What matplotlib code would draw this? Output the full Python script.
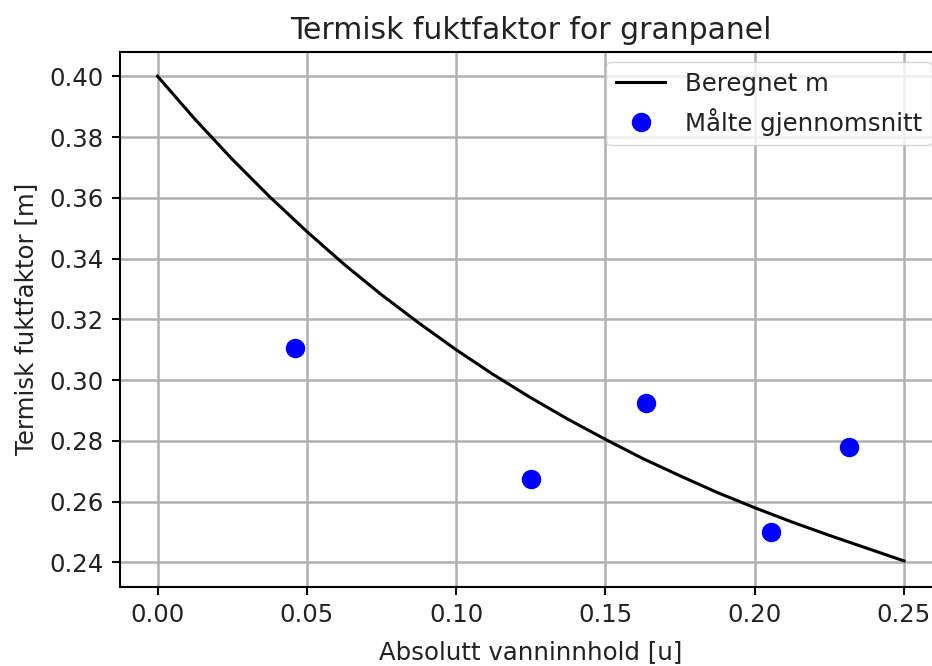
import numpy as np
import matplotlib
matplotlib.use('Agg')
import matplotlib.pyplot as plt
import matplotlib as mpl

mpl.rcParams['font.size'] = 17.6
mpl.rcParams['axes.titlesize'] = 21.5
mpl.rcParams['axes.labelsize'] = 17.6
mpl.rcParams['xtick.labelsize'] = 17.6
mpl.rcParams['ytick.labelsize'] = 17.6
mpl.rcParams['legend.fontsize'] = 17.6
mpl.rcParams['axes.linewidth'] = 1.5
mpl.rcParams['xtick.major.size'] = 6
mpl.rcParams['ytick.major.size'] = 6
mpl.rcParams['xtick.major.width'] = 1.5
mpl.rcParams['ytick.major.width'] = 1.5
mpl.rcParams['xtick.major.pad'] = 6
mpl.rcParams['ytick.major.pad'] = 6
mpl.rcParams['text.color'] = '#222222'
mpl.rcParams['xtick.labelcolor'] = '#222222'
mpl.rcParams['ytick.labelcolor'] = '#222222'
mpl.rcParams['axes.labelcolor'] = '#222222'

# beregnet termisk fuktfaktor (lest av kurven)
u_beregnet = [0.0, 0.0125, 0.025, 0.0375, 0.05, 0.0625, 0.075, 0.0875, 0.10,
              0.1125, 0.125, 0.1375, 0.15, 0.1625, 0.175, 0.1875, 0.20,
              0.2125, 0.225, 0.2375, 0.25]
m_beregnet = [0.4000, 0.3859, 0.3727, 0.3604, 0.3489, 0.3381, 0.3281, 0.3188,
              0.3100, 0.3018, 0.2942, 0.2871, 0.2805, 0.2742, 0.2685, 0.2630,
              0.2580, 0.2533, 0.2489, 0.2447, 0.2405]

# maalte gjennomsnitt
u_maalt = [0.046, 0.125, 0.1635, 0.2055, 0.2315]
m_maalt = [0.3105, 0.2675, 0.2925, 0.250, 0.278]

fig = plt.figure(figsize=(9.32, 6.66), dpi=100)
ax = fig.add_axes([0.129, 0.119, 0.881, 0.803])

ax.plot(u_beregnet, m_beregnet, color='black', linewidth=2.2, label='Beregnet m')
ax.plot(u_maalt, m_maalt, 'o', color='blue', markersize=13, label='Målte gjennomsnitt')

ax.set_title('Termisk fuktfaktor for granpanel', pad=9)
ax.set_xlabel('Absolutt vanninnhold [u]', labelpad=9)
ax.set_ylabel('Termisk fuktfaktor [m]', labelpad=8)
ax.set_xticks([0.0, 0.05, 0.10, 0.15, 0.20, 0.25])
ax.set_xticklabels(['0.00', '0.05', '0.10', '0.15', '0.20', '0.25'])
ax.set_yticks([0.24, 0.26, 0.28, 0.30, 0.32, 0.34, 0.36, 0.38, 0.40])
ax.set_yticklabels(['0.24', '0.26', '0.28', '0.30', '0.32', '0.34', '0.36', '0.38', '0.40'])
ax.set_xlim(-0.0125, 0.2625)
ax.set_ylim(0.232, 0.408)
ax.grid(True, color='#b0b0b0', linewidth=1.8)
ax.legend(loc='upper right', borderaxespad=0.4)

plt.savefig('out.png', dpi=100)
